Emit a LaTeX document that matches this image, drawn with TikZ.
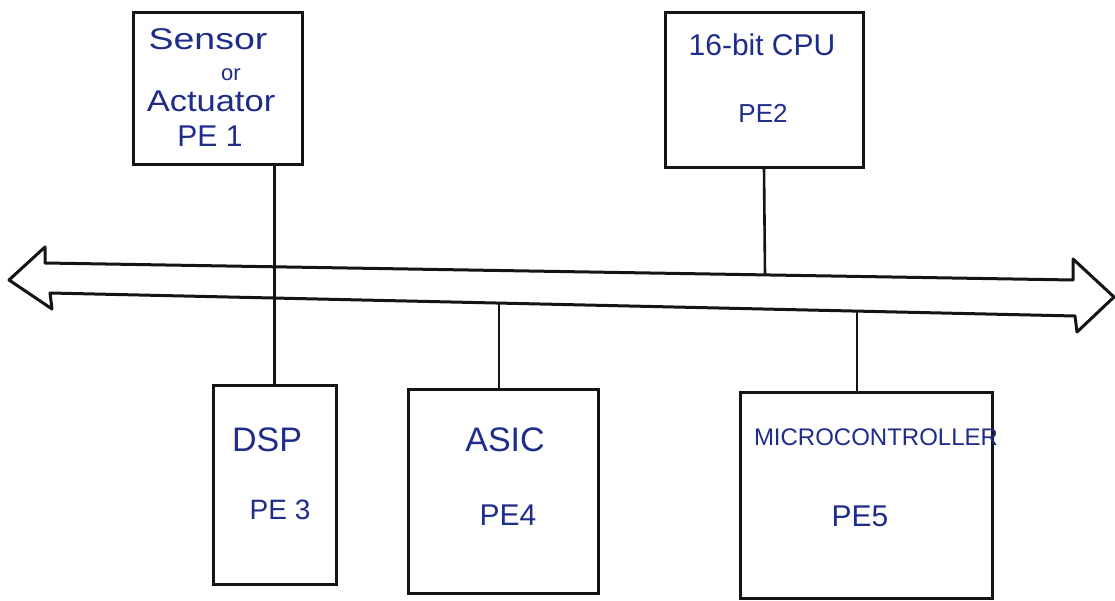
\documentclass[tikz,border=0pt]{standalone}
\usepackage{fontspec}
\setmainfont{Liberation Sans}
\definecolor{ink}{HTML}{1E2C8A}
\definecolor{pen}{HTML}{141414}
\begin{document}
\begin{tikzpicture}[x=1pt,y=-1pt,
  box/.style={draw=pen, line width=3pt, rectangle, inner sep=0pt, outer sep=0pt},
  wire/.style={draw=pen, line width=2.6pt},
  bus/.style={draw=pen, line width=3pt, line join=round},
  lbl/.style={text=ink, inner sep=0pt, anchor=center},
  bl/.style={text=ink, inner sep=0pt, anchor=base},
]
\useasboundingbox (0,0) rectangle (1115,601);
\fill[white] (0,0) rectangle (1115,601);

% boxes
\node[box, minimum width=169pt, minimum height=152pt] (pe1) at (217.5,89) {};
\node[box, minimum width=198pt, minimum height=155pt] (pe2) at (764,90.5) {};
\node[box, minimum width=123pt, minimum height=199pt] (dsp) at (274.5,484.5) {};
\node[box, minimum width=190pt, minimum height=204pt] (asic) at (503,491) {};
\node[box, minimum width=252pt, minimum height=206pt] (mcu) at (866,495) {};

% bus (double-headed arrow)
\coordinate (tl) at (45,263);
\coordinate (tr) at (1073,280);
\coordinate (bl) at (50,293);
\coordinate (br) at (1075,316);
\draw[bus] (tl) -- (tr) -- (1073,259) -- (1114,297) -- (1077,332) -- (br)
  -- (bl) -- (52,309) -- (9,280) -- (45,247) -- cycle;

% bus taps
\coordinate (b2) at (765,275);
\coordinate (b4) at (499,303);
\coordinate (b5) at (857,311);

% connectors
\draw[wire] (pe1.south -| dsp.north) -- (dsp.north);
\draw[wire] (pe2.south) -- (b2);
\draw[wire] (b4) -- (b4 |- asic.north);
\draw[wire] (b5) -- (b5 |- mcu.north);

% labels
\node[bl, font=\fontsize{30}{32}\selectfont] (t1a) at (208,50) {\scalebox{1.25}[1]{Sensor}};
\node[bl, font=\fontsize{22}{24}\selectfont] (t1b) at (231,81) {or};
\node[bl, font=\fontsize{30}{32}\selectfont] (t1c) at (211,112) {\scalebox{1.15}[1]{Actuator}};
\node[bl, font=\fontsize{30}{32}\selectfont] (t1d) at (210,147) {PE 1};

\node[lbl, font=\fontsize{30}{32}\selectfont] (t2a) at (762,45) {16-bit CPU};
\node[lbl, font=\fontsize{26}{28}\selectfont] (t2b) at (763,113) {PE2};

\node[lbl, font=\fontsize{34}{36}\selectfont] (t3a) at (267,440) {DSP};
\node[lbl, font=\fontsize{28}{30}\selectfont] (t3b) at (280,510) {PE 3};

\node[lbl, font=\fontsize{34}{36}\selectfont] (t4a) at (505,440) {ASIC};
\node[lbl, font=\fontsize{30}{32}\selectfont] (t4b) at (508,515) {PE4};

\node[lbl, font=\fontsize{24}{26}\selectfont] (t5a) at (876,437) {MICROCONTROLLER};
\node[lbl, font=\fontsize{30}{32}\selectfont] (t5b) at (860,516) {PE5};
\end{tikzpicture}
\end{document}
